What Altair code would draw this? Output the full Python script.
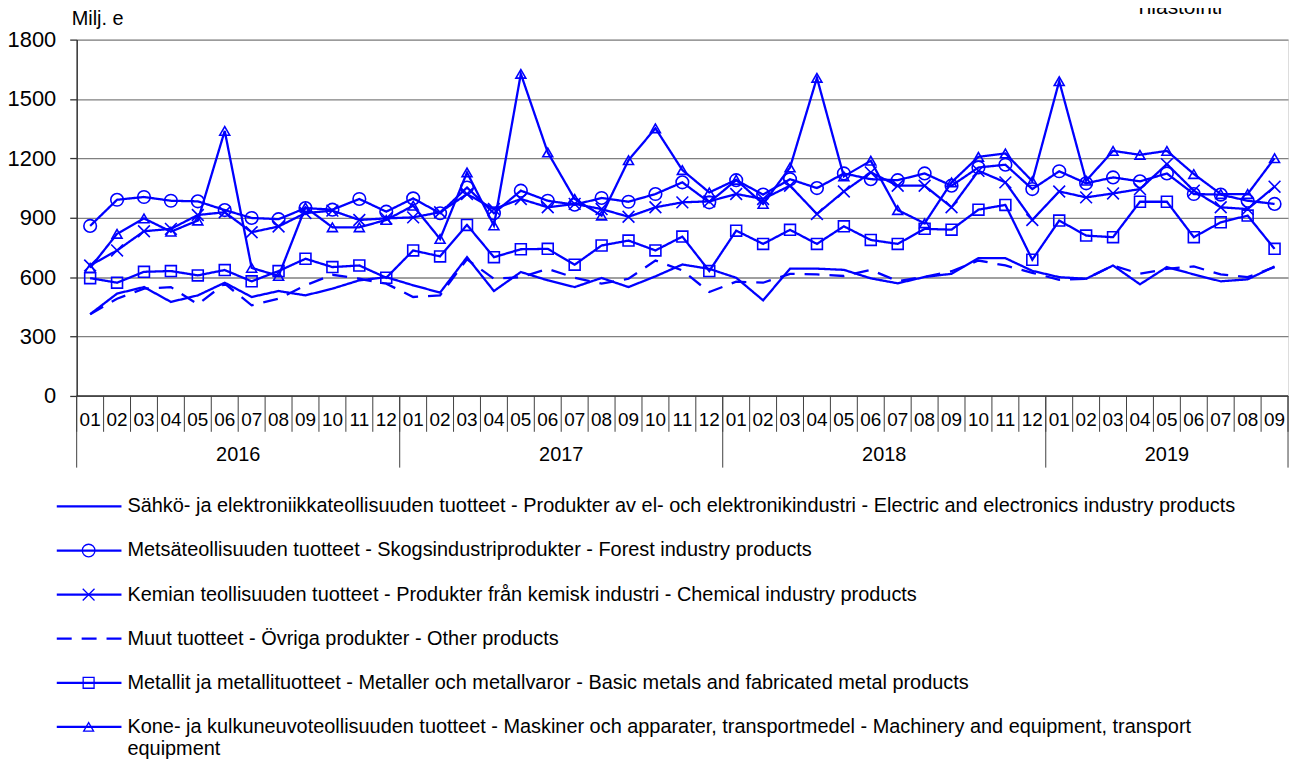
import altair as alt
import pandas as pd

# ---------------- data ----------------
years = [2016, 2017, 2018, 2019]
month_labels = ["01", "02", "03", "04", "05", "06", "07", "08", "09", "10", "11", "12"] * 3 + \
               ["01", "02", "03", "04", "05", "06", "07", "08", "09"]
months_per_year = [12, 12, 12, 9]

series_names = [
    "Sähkö- ja elektroniikkateollisuuden tuotteet - Produkter av el- och elektronikindustri - Electric and electronics industry products",
    "Metsäteollisuuden tuotteet - Skogsindustriprodukter - Forest industry products",
    "Kemian teollisuuden tuotteet - Produkter från kemisk industri - Chemical industry products",
    "Muut tuotteet - Övriga produkter - Other products",
    "Metallit ja metallituotteet - Metaller och metallvaror - Basic metals and fabricated metal products",
    "Kone- ja kulkuneuvoteollisuuden tuotteet - Maskiner och apparater, transportmedel -  Machinery and equipment, transport equipment",
]
legend_lines = [
    [series_names[0]],
    [series_names[1]],
    [series_names[2]],
    [series_names[3]],
    [series_names[4]],
    ["Kone- ja kulkuneuvoteollisuuden tuotteet - Maskiner och apparater, transportmedel -  Machinery and equipment, transport",
     "equipment"],
]

electric = [413, 517, 550, 475, 508, 572, 500, 530, 508, 542, 584, 600,
            559, 522, 701, 530, 626, 584, 550, 596, 550, 604, 664, 642,
            597, 483, 643, 643, 637, 594, 569, 601, 617, 696, 696, 632,
            600, 592, 659, 564, 651, 614, 579, 589, 654]
forest = [859, 991, 1005, 986, 983, 939, 899, 893, 949, 941, 995, 931,
          998, 923, 1053, 923, 1037, 986, 966, 1000, 981, 1020, 1079, 978,
          1090, 1017, 1095, 1050, 1124, 1095, 1090, 1124, 1062, 1154, 1168, 1045,
          1135, 1074, 1104, 1084, 1124, 1020, 1017, 986, 970]
chemical = [659, 735, 832, 844, 914, 928, 827, 856, 924, 936, 889, 897,
            902, 928, 1020, 944, 995, 953, 970, 944, 905, 953, 978, 983,
            1020, 995, 1062, 919, 1033, 1129, 1062, 1062, 953, 1137, 1079, 889,
            1033, 1003, 1023, 1045, 1171, 1037, 953, 944, 1057]
other = [413, 491, 542, 550, 463, 567, 458, 491, 559, 612, 592, 567,
         500, 508, 690, 592, 600, 642, 597, 567, 592, 684, 634, 525,
         577, 572, 617, 614, 606, 637, 580, 602, 630, 684, 659, 622,
         587, 592, 659, 617, 642, 654, 614, 600, 651]
metals = [595, 572, 627, 631, 609, 636, 579, 631, 693, 651, 659, 597,
          735, 705, 864, 701, 741, 743, 663, 760, 785, 735, 805, 631,
          835, 768, 839, 768, 857, 788, 768, 844, 840, 941, 965, 688,
          886, 810, 802, 981, 981, 802, 877, 911, 743]
machinery = [647, 819, 897, 830, 886, 1339, 647, 606, 953, 852, 852, 889,
             961, 793, 1129, 861, 1627, 1230, 995, 911, 1191, 1352, 1141, 1028,
             1092, 970, 1154, 1607, 1109, 1188, 939, 872, 1079, 1208, 1225, 1085,
             1590, 1087, 1238, 1218, 1238, 1121, 1020, 1020, 1201]

series_values = [electric, forest, chemical, other, metals, machinery]
y_ticks = [0, 300, 600, 900, 1200, 1500, 1800]

# ---------------- tables ----------------
n_months = len(month_labels)
rows = []
for k, (name, vals) in enumerate(zip(series_names, series_values)):
    for i, v in enumerate(vals):
        rows.append({"series": name, "k": k, "i": i, "value": v})
df = pd.DataFrame(rows)

month_df = pd.DataFrame({"i": list(range(n_months)), "label": month_labels})
starts, ends, acc = [], [], 0
for n in months_per_year:
    starts.append(acc)
    acc += n
    ends.append(acc)
year_df = pd.DataFrame({"year": [str(y) for y in years], "start": starts, "end": ends})
bound_df = pd.DataFrame({"b": list(range(n_months + 1))})
year_bound_df = pd.DataFrame({"b": [0] + ends})

legend_df = pd.DataFrame({"series": series_names, "k": list(range(len(series_names)))})
lt_rows = []
for k, lines_ in enumerate(legend_lines):
    for j, t in enumerate(lines_):
        lt_rows.append({"k": k, "j": j, "text": t})
legend_text_df = pd.DataFrame(lt_rows)

marker_series = [series_names[1], series_names[2], series_names[4], series_names[5]]

# ---------------- styles ----------------
BLUE = "#0000FF"
FONT = "Liberation Sans"
W, H = 1217, 358

dash_scale = alt.Scale(domain=series_names,
                       range=[[1, 0], [1, 0], [1, 0], [15, 10], [1, 0], [1, 0]])
shape_scale = alt.Scale(domain=marker_series,
                        range=["circle", "M-1,-1L1,1M1,-1L-1,1", "square", "triangle-up"])

x_scale = alt.Scale(domain=[0, n_months], nice=False, zero=False)
y_scale = alt.Scale(domain=[0, 1800], nice=False)
y_axis = alt.Axis(values=y_ticks, format="d", grid=True, gridColor="#808080", gridWidth=1.3,
                  domainColor="#333333", domainWidth=1.5, tickColor="#333333",
                  tickSize=7, tickWidth=1.3, labelFontSize=22, labelFont=FONT,
                  labelColor="black", labelPadding=14, title=None)

base = alt.Chart(df).transform_calculate(xc="datum.i + 0.5")

lines = base.mark_line(color=BLUE, strokeWidth=2.3).encode(
    x=alt.X("xc:Q", scale=x_scale, axis=None),
    y=alt.Y("value:Q", scale=y_scale, axis=y_axis),
    detail="series:N",
    strokeDash=alt.StrokeDash("series:N", scale=dash_scale, legend=None),
    order="i:Q",
)

points = base.transform_filter(
    alt.FieldOneOfPredicate(field="series", oneOf=marker_series)
).mark_point(color=BLUE, filled=False, strokeWidth=1.6, opacity=1).encode(
    x=alt.X("xc:Q", scale=x_scale, axis=None),
    y=alt.Y("value:Q", scale=y_scale, axis=y_axis),
    shape=alt.Shape("series:N", scale=shape_scale, legend=None),
    size=alt.Size("series:N", scale=alt.Scale(domain=marker_series, range=[160, 100, 100, 200]),
                  legend=None),
)

zero_line = alt.Chart(pd.DataFrame({"value": [0]})).mark_rule(color="#333333", strokeWidth=1.5).encode(
    y=alt.Y("value:Q", scale=y_scale, axis=y_axis)
)

month_text = alt.Chart(month_df).transform_calculate(xc="datum.i + 0.5").mark_text(
    fontSize=19, font=FONT, color="black", baseline="middle", align="center"
).encode(x=alt.X("xc:Q", scale=x_scale, axis=None), y=alt.value(H + 24), text="label:N")

year_text = alt.Chart(year_df).transform_calculate(xc="(datum.start + datum.end) / 2").mark_text(
    fontSize=20, font=FONT, color="black", baseline="middle", align="center"
).encode(x=alt.X("xc:Q", scale=x_scale, axis=None), y=alt.value(H + 59), text="year:N")

month_sep = alt.Chart(bound_df).mark_rule(color="#404040", strokeWidth=1).encode(
    x=alt.X("b:Q", scale=x_scale, axis=None), y=alt.value(H), y2=alt.value(H + 36)
)
year_sep = alt.Chart(year_bound_df).mark_rule(color="#404040", strokeWidth=1).encode(
    x=alt.X("b:Q", scale=x_scale, axis=None), y=alt.value(H), y2=alt.value(H + 72)
)

leg_base = alt.Chart(legend_df).transform_calculate(ly="469 + 44.3 * datum.k")
leg_lines = leg_base.mark_rule(color=BLUE, strokeWidth=2.3).encode(
    x=alt.value(-20), x2=alt.value(45),
    y=alt.Y("ly:Q", scale=None, axis=None),
    strokeDash=alt.StrokeDash("series:N", scale=dash_scale, legend=None),
)
leg_points = leg_base.transform_filter(
    alt.FieldOneOfPredicate(field="series", oneOf=marker_series)
).mark_point(color=BLUE, filled=False, strokeWidth=1.3, opacity=1).encode(
    x=alt.value(12),
    y=alt.Y("ly:Q", scale=None, axis=None),
    shape=alt.Shape("series:N", scale=shape_scale, legend=None),
    size=alt.Size("series:N", scale=alt.Scale(domain=marker_series, range=[75, 50, 60, 80]),
                  legend=None),
)
leg_text = alt.Chart(legend_text_df).transform_calculate(
    ly="469 + 44.3 * datum.k + 22 * datum.j"
).mark_text(fontSize=20, font=FONT, color="black", align="left", baseline="middle").encode(
    x=alt.value(51), y=alt.Y("ly:Q", scale=None, axis=None), text="text:N"
)

unit_text = alt.Chart(pd.DataFrame({"t": ["Milj. e"]})).mark_text(
    fontSize=20, font=FONT, color="black", align="left", baseline="alphabetic"
).encode(x=alt.value(-5), y=alt.value(-15), text="t:N")

source_text = alt.Chart(pd.DataFrame({"t": ["Tilastointi"]})).mark_text(
    fontSize=21, font=FONT, color="black", align="left", baseline="alphabetic"
).encode(x=alt.value(1063), y=alt.value(-26), text="t:N")

chart = alt.layer(
    lines, zero_line, points, month_sep, year_sep, month_text, year_text,
    leg_lines, leg_points, leg_text, unit_text, source_text
).properties(
    width=W, height=H,
    padding={"left": 69, "top": 30, "right": 5, "bottom": 366},
    autosize=alt.AutoSizeParams(type="none"),
).configure_view(
    stroke="#808080", strokeWidth=1.5
).configure(font=FONT, background="white")

chart.save("out.html", embed_options={"renderer": "svg", "actions": False})
